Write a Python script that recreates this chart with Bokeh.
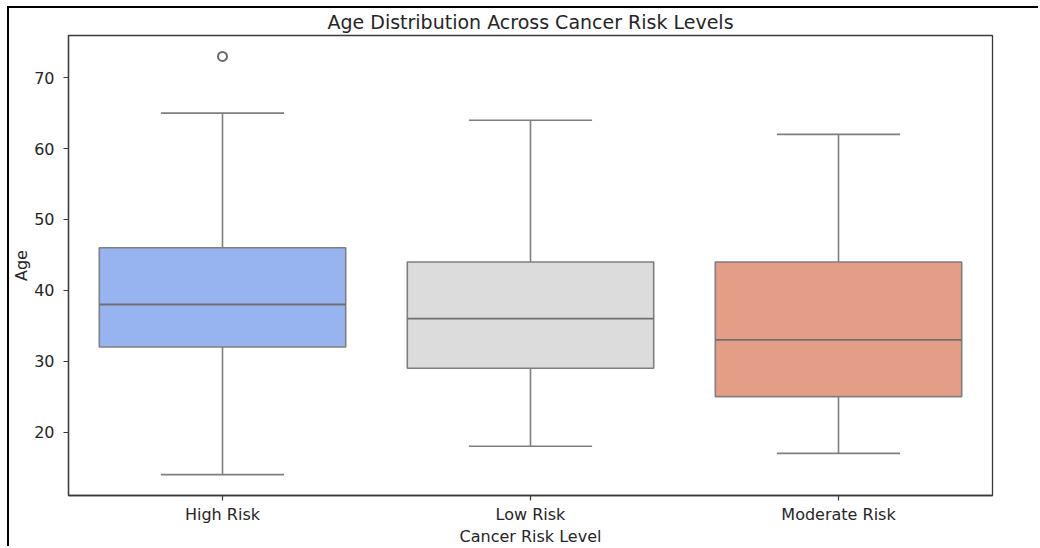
from bokeh.plotting import figure
from bokeh.models import FactorRange, Range1d, FixedTicker, ColumnDataSource
from bokeh.transform import dodge
from bokeh.embed import file_html
from bokeh.resources import INLINE

categories = ["High Risk", "Low Risk", "Moderate Risk"]
whisker_low = [14, 18, 17]
q1 = [32, 29, 25]
median = [38, 36, 33]
q3 = [46, 44, 44]
whisker_high = [65, 64, 62]
outlier_cat = ["High Risk"]
outlier_val = [73]
colors = ["#98b4f0", "#dcdcdc", "#e49e87"]
y_ticks = [20, 30, 40, 50, 60, 70]

data_min = min(whisker_low + outlier_val)
data_max = max(whisker_high + outlier_val)
pad = 0.05 * (data_max - data_min)

src = ColumnDataSource(dict(cat=categories, lo=whisker_low, q1=q1, med=median,
                            q3=q3, hi=whisker_high, color=colors))
out_src = ColumnDataSource(dict(cat=outlier_cat, val=outlier_val))

FONT = "DejaVu Sans"
TXT = "#262626"
LINE = "#7f7f7f"

p = figure(x_range=FactorRange(*categories, range_padding=0),
           y_range=Range1d(data_min - pad, data_max + pad),
           width=1031, height=540, output_backend="svg", toolbar_location=None,
           min_border_left=59, min_border_right=48, min_border_top=27, min_border_bottom=53,
           title="Age Distribution Across Cancer Risk Levels")
p.x_range.factor_padding = 0
p.styles = {"border-left": "2px solid black", "border-top": "2px solid black",
            "margin-left": "7px", "margin-top": "6px"}

p.title.align = "center"
p.title.vertical_align = "top"
p.title.text_font = FONT
p.title.text_font_size = "19px"
p.title.text_font_style = "normal"
p.title.text_color = TXT
p.title.standoff = 1
p.title.offset = 0

p.xgrid.visible = False
p.ygrid.visible = False
p.outline_line_color = "#3a3a3a"
p.outline_line_width = 1.3
p.background_fill_color = "white"
p.border_fill_color = "white"

for ax in (p.xaxis[0], p.yaxis[0]):
    ax.axis_line_color = "#3a3a3a"
    ax.axis_line_width = 1.3
    ax.major_tick_line_color = "#3a3a3a"
    ax.major_tick_line_width = 1.2
    ax.major_tick_out = 5
    ax.major_tick_in = 0
    ax.minor_tick_line_color = None
    ax.major_label_text_font = FONT
    ax.major_label_text_font_size = "16px"
    ax.major_label_text_color = TXT
    ax.axis_label_text_font = FONT
    ax.axis_label_text_font_size = "16px"
    ax.axis_label_text_font_style = "normal"
    ax.axis_label_text_color = TXT

p.yaxis.ticker = FixedTicker(ticks=y_ticks)
p.yaxis.axis_label = "Age"
p.yaxis.major_label_standoff = 9
p.yaxis.axis_label_standoff = 0
p.xaxis.axis_label = "Cancer Risk Level"
p.xaxis.major_label_standoff = 4
p.xaxis.axis_label_standoff = 0

# whiskers
p.segment(x0="cat", y0="q3", x1="cat", y1="hi", source=src, line_color=LINE, line_width=1.6)
p.segment(x0="cat", y0="q1", x1="cat", y1="lo", source=src, line_color=LINE, line_width=1.6)
# caps
p.segment(x0=dodge("cat", -0.2, range=p.x_range), x1=dodge("cat", 0.2, range=p.x_range),
          y0="hi", y1="hi", source=src, line_color=LINE, line_width=1.6)
p.segment(x0=dodge("cat", -0.2, range=p.x_range), x1=dodge("cat", 0.2, range=p.x_range),
          y0="lo", y1="lo", source=src, line_color=LINE, line_width=1.6)
# boxes
p.vbar(x="cat", top="q3", bottom="q1", width=0.8, source=src, fill_color="color",
       line_color=LINE, line_width=1.6)
# medians
p.segment(x0=dodge("cat", -0.4, range=p.x_range), x1=dodge("cat", 0.4, range=p.x_range),
          y0="med", y1="med", source=src, line_color="#6f6f6f", line_width=1.8)
# outliers
p.scatter(x="cat", y="val", source=out_src, marker="circle", size=9, fill_color=None,
          line_color="#6a6a6a", line_width=2)

open("out.html", "w").write(file_html(p, INLINE))
